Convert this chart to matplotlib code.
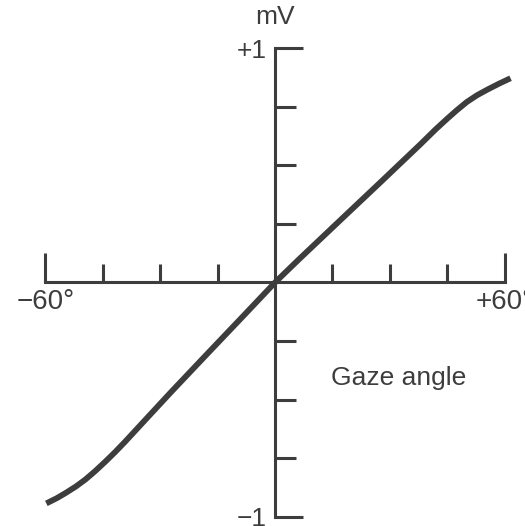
import matplotlib
matplotlib.use('Agg')
import matplotlib.pyplot as plt

angle = [-59.7, -57.0, -54.6, -52.0, -49.5, -47.0, -44.3, -41.8, -39.2, -34.5,
         -27.3, -17.5, -8.0, 0.0, 6.2, 17.0, 27.7, 38.0, 42.0, 45.0, 47.5,
         50.1, 52.8, 55.5, 58.5, 61.5]
mv = [-0.942, -0.920, -0.897, -0.870, -0.840, -0.805, -0.764, -0.724, -0.680, -0.597,
      -0.470, -0.301, -0.138, 0.0, 0.098, 0.265, 0.430, 0.590, 0.654, 0.699, 0.735,
      0.770, 0.799, 0.823, 0.848, 0.871]

x_major = [-60, 60]
x_major_labels = ['\u221260\u00b0', '+60\u00b0']
x_minor = [-45, -30, -15, 15, 30, 45]
y_major = [-1, 1]
y_major_labels = ['\u22121', '+1']
y_minor = [-0.75, -0.5, -0.25, 0.25, 0.5, 0.75]

ink = '#3d3d3d'
plt.rcParams['font.family'] = ['Liberation Sans', 'DejaVu Sans']

fig = plt.figure(figsize=(5.25, 5.26), dpi=100)
fig.set_facecolor('white')
ax = fig.add_axes([0, 0, 1, 1])

ax.plot(angle, mv, color=ink, lw=4.2, solid_capstyle='butt',
        solid_joinstyle='round', zorder=3)

ax.set_xlim(-275 / 3.83, 250 / 3.83)
ax.set_ylim(-1.0384, 1.2047)

for s in ['top', 'right']:
    ax.spines[s].set_visible(False)
for s in ['left', 'bottom']:
    ax.spines[s].set_position(('data', 0))
    ax.spines[s].set_color(ink)
    ax.spines[s].set_linewidth(2.2)
ax.spines['bottom'].set_bounds(-60, 60)
ax.spines['left'].set_bounds(-1, 1)

ax.set_xticks(x_major)
ax.set_xticklabels(x_major_labels)
ax.set_xticks(x_minor, minor=True)
ax.set_yticks(y_major)
ax.set_yticklabels(y_major_labels)
ax.set_yticks(y_minor, minor=True)

ax.tick_params(axis='x', which='major', direction='in', length=21, width=2.2,
               color=ink, labelcolor=ink, labelsize=20, pad=5)
ax.tick_params(axis='x', which='minor', direction='in', length=13, width=2.2, color=ink)
ax.tick_params(axis='y', which='major', direction='in', length=20, width=2.2,
               color=ink, labelcolor=ink, labelsize=19, pad=6)
ax.tick_params(axis='y', which='minor', direction='in', length=15, width=2.2, color=ink)

ax.text(0, 1.102, 'mV', ha='center', va='baseline', fontsize=19, color=ink)
ax.text(14.6, -0.437, 'Gaze angle', ha='left', va='baseline', fontsize=19, color=ink)

fig.savefig('out.png', dpi=100, facecolor='white')
